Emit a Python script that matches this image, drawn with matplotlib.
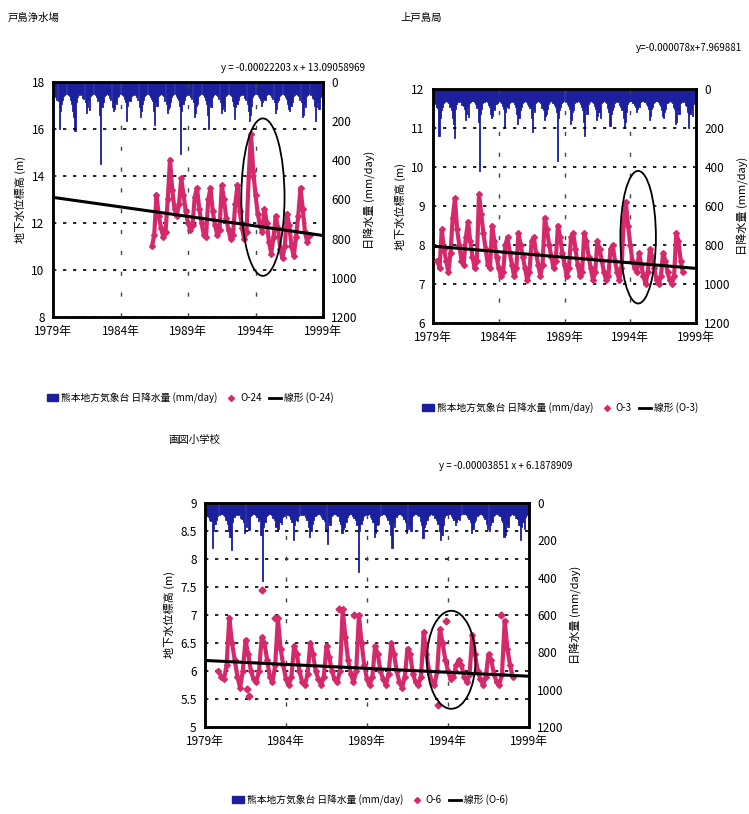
import numpy as np
import matplotlib
matplotlib.use('Agg')
import matplotlib.pyplot as plt
from matplotlib.patches import Ellipse, Patch
from matplotlib.lines import Line2D

plt.rcParams['font.family'] = ['Noto Sans CJK JP', 'DejaVu Sans']

# daily rainfall (max per month, mm/day), Kumamoto observatory, 1979-1998
rain_years = list(range(1979, 1999))
rain_monthly = [
    [60, 70, 75, 90, 95, 240, 150, 110, 90, 70, 65, 60],
    [60, 65, 70, 90, 110, 150, 180, 250, 100, 75, 65, 60],
    [65, 60, 80, 85, 100, 160, 130, 90, 145, 70, 65, 60],
    [60, 65, 75, 95, 85, 170, 420, 130, 100, 70, 65, 60],
    [60, 65, 80, 90, 130, 150, 140, 100, 110, 75, 70, 60],
    [60, 65, 70, 85, 100, 200, 120, 90, 95, 70, 65, 60],
    [65, 60, 75, 90, 130, 180, 150, 110, 90, 70, 65, 60],
    [60, 65, 75, 85, 95, 150, 220, 100, 120, 70, 65, 60],
    [60, 65, 70, 95, 110, 160, 140, 130, 100, 75, 65, 60],
    [60, 70, 80, 90, 120, 370, 150, 110, 90, 70, 65, 60],
    [65, 60, 75, 85, 100, 180, 160, 120, 110, 70, 65, 60],
    [60, 65, 75, 90, 110, 170, 240, 100, 130, 75, 65, 60],
    [60, 65, 70, 85, 100, 160, 140, 120, 150, 70, 65, 60],
    [60, 65, 70, 95, 120, 190, 130, 110, 90, 70, 65, 60],
    [65, 60, 80, 90, 110, 150, 200, 170, 120, 75, 65, 60],
    [60, 60, 70, 80, 90, 120, 100, 85, 90, 65, 60, 60],
    [60, 65, 75, 85, 100, 160, 140, 100, 90, 70, 65, 60],
    [60, 65, 75, 85, 110, 140, 150, 120, 100, 70, 65, 60],
    [60, 65, 70, 90, 100, 180, 170, 110, 130, 70, 65, 60],
    [65, 60, 80, 85, 120, 200, 130, 100, 140, 75, 65, 60],
]

# groundwater level, every 2 months (Jan, Mar, May, Jul, Sep, Nov)
o24_start = 1986 + 4 / 12
o24 = [11.0, 11.5, 13.2, 12.3,
       11.8, 11.4, 11.6, 13.0, 14.7, 13.4,
       12.6, 12.3, 12.8, 13.9, 13.2, 12.5,
       12.0, 11.7, 11.9, 13.1, 13.5, 12.6,
       12.0, 11.5, 11.4, 13.0, 13.5, 12.5,
       11.9, 11.5, 11.7, 13.6, 13.0, 12.2,
       11.7, 11.3, 11.5, 12.8, 13.6, 12.5,
       11.8, 11.3, 11.6, 14.0, 15.8, 14.2,
       13.2, 12.4, 11.9, 11.6, 12.6, 12.0,
       11.2, 10.7, 11.4, 12.3, 11.8, 10.9,
       10.5, 11.0, 12.4, 11.9, 11.0, 10.6,
       11.4, 12.3, 13.5, 12.6, 11.6, 11.2,
       11.5]

o3_start = 1979 + 4 / 12
o3 = [7.6, 7.4, 8.4, 7.9,
      7.6, 7.3, 7.8, 8.7, 9.2, 8.4,
      8.0, 7.6, 7.5, 8.2, 8.6, 8.1,
      7.7, 7.4, 7.6, 9.3, 8.8, 8.3,
      7.9, 7.5, 7.4, 8.5, 8.1, 7.7,
      7.4, 7.2, 7.3, 8.0, 8.2, 7.8,
      7.5, 7.2, 7.4, 8.3, 8.0, 7.7,
      7.4, 7.1, 7.3, 8.1, 8.2, 7.8,
      7.5, 7.2, 7.5, 8.7, 8.4, 8.0,
      7.7, 7.4, 7.6, 8.5, 8.2, 7.8,
      7.5, 7.2, 7.4, 8.2, 8.3, 7.9,
      7.5, 7.2, 7.3, 8.3, 8.1, 7.7,
      7.4, 7.1, 7.3, 8.1, 7.9, 7.6,
      7.3, 7.1, 7.2, 7.9, 8.0, 7.6,
      7.3, 7.1, 7.4, 8.6, 9.1, 8.5,
      8.0, 7.6, 7.4, 7.3, 7.8, 7.5,
      7.2, 7.0, 7.3, 7.9, 7.7, 7.4,
      7.1, 7.0, 7.2, 7.8, 7.6, 7.3,
      7.1, 7.0, 7.2, 8.3, 8.1, 7.6,
      7.3]

o6_start = 1979 + 10 / 12
o6 = [6.0,
      5.9, 5.85, 6.1, 6.95, 6.5, 6.2,
      5.9, 5.7, 6.0, 6.55, 6.3, 6.0,
      5.85, 5.8, 6.0, 6.6, 6.5, 6.2,
      5.9, 5.8, 6.1, 6.95, 6.4, 6.1,
      5.85, 5.75, 5.9, 6.45, 6.3, 6.0,
      5.8, 5.75, 5.95, 6.5, 6.3, 6.0,
      5.85, 5.75, 5.9, 6.45, 6.25, 6.0,
      5.85, 5.8, 6.0, 7.1, 6.6, 6.2,
      5.95, 5.8, 6.0, 7.0, 6.5, 6.1,
      5.85, 5.75, 5.9, 6.45, 6.3, 6.0,
      5.85, 5.75, 5.95, 6.5, 6.3, 6.0,
      5.8, 5.7, 5.9, 6.4, 6.3, 5.95,
      5.8, 5.75, 5.9, 6.7, 6.3, 6.0,
      5.8, 5.75, 6.0, 6.75, 6.5, 6.2,
      6.0, 5.85, 5.9, 6.1, 6.2, 6.1,
      5.9, 5.8, 5.95, 6.65, 6.3, 6.0,
      5.85, 5.75, 5.9, 6.3, 6.2, 5.95,
      5.8, 5.75, 5.95, 6.9, 6.4, 6.1,
      5.9]
# scattered single readings of O-6
o6_out_x = [1981.6, 1981.7, 1982.5, 1983.3, 1987.3, 1988.2, 1993.4, 1993.9, 1997.3]
o6_out_y = [5.68, 5.55, 7.45, 6.95, 7.1, 7.0, 5.4, 6.9, 7.0]

# linear fits (x = days since 1979-01-01)
fits = {
    'O-24': (-0.00022203, 13.09058969),
    'O-3': (-0.000078, 7.969881),
    'O-6': (-0.00003851, 6.1878909),
}

year_ticks = [1979, 1984, 1989, 1994, 1999]
year_labels = ['%d年' % y for y in year_ticks]

BLUE = '#1b1f9e'
RED = '#d42a6c'

fig = plt.figure(figsize=(7.49, 8.14), dpi=100)
W, H = 749, 814


def panel(rect, name, start, vals, ylim, yticks, ylabels, ellipse, extra=None):
    l, t, r, b = rect
    ax = fig.add_axes([l / W, 1 - b / H, (r - l) / W, (b - t) / H])
    ax2 = ax.twinx()
    ax.set_zorder(ax2.get_zorder() + 1)
    ax.patch.set_visible(False)

    # rainfall bars hanging from the top
    rx, ry = [], []
    for yr, row in zip(rain_years, rain_monthly):
        for m, v in enumerate(row):
            rx.append(yr + (m + 0.5) / 12)
            ry.append(v)
    ax2.bar(rx, ry, width=1 / 12, color=BLUE, edgecolor=BLUE, linewidth=0.6)
    ax2.set_ylim(1200, 0)
    ax2.set_yticks(range(0, 1201, 200))
    ax2.set_ylabel('日降水量 (mm/day)', rotation=90, fontsize=8, labelpad=4)

    xs = [start + i / 6 for i in range(len(vals))]
    ax.plot(xs, vals, color=RED, lw=3, marker='D', ms=3, zorder=3)
    if extra:
        ax.plot(extra[0], extra[1], ls='none', color=RED, marker='D', ms=3.5, zorder=3)

    a, b0 = fits[name]
    tx = np.array([1979, 1999])
    ax.plot(tx, b0 + a * (tx - 1979) * 365.25, color='black', lw=2.2, zorder=4)

    ax.add_patch(Ellipse(ellipse[:2], ellipse[2], ellipse[3], fill=False,
                         ec='black', lw=1.3, zorder=5))

    ax.set_xlim(1979, 1999)
    ax.set_ylim(*ylim)
    ax.set_yticks(yticks)
    ax.set_yticklabels(ylabels)
    ax.set_xticks(year_ticks)
    ax.set_xticklabels(year_labels)
    ax.yaxis.grid(True, linestyle=(0, (2, 4)), color='black', lw=1.2)
    for yv in year_ticks[1:-1]:
        ax.axvline(yv, color='#444444', lw=1.0, linestyle=(0, (3, 12)))
    ax.set_ylabel('地下水位標高 (m)', fontsize=8, labelpad=4)
    for a_ in (ax, ax2):
        a_.tick_params(length=0, labelsize=8.5, pad=6)
        for s in a_.spines.values():
            s.set_linewidth(1.8)
    return ax


ax1 = panel((53, 82, 323, 317), 'O-24', o24_start, o24, (8, 18),
            [8, 10, 12, 14, 16, 18], ['8', '10', '12', '14', '16', '18'],
            (1994.55, 13.1, 3.2, 6.7))
ax2p = panel((433, 89, 696, 323), 'O-3', o3_start, o3, (6, 12),
             [6, 7, 8, 9, 10, 11, 12], ['6', '7', '8', '9', '10', '11', '12'],
             (1994.6, 8.2, 2.7, 3.4))
ax3 = panel((205, 503, 529, 727), 'O-6', o6_start, o6, (5, 9),
            [5, 5.5, 6, 6.5, 7, 7.5, 8, 8.5, 9],
            ['5', '5.5', '6', '6.5', '7', '7.5', '8', '8.5', '9'],
            (1994.2, 6.2, 3.0, 1.75), extra=(o6_out_x, o6_out_y))

# titles and fit equations
fig.text(8 / W, 1 - 18 / H, '戸島浄水場', fontsize=7.5, va='center')
fig.text(400 / W, 1 - 18 / H, '上戸島局', fontsize=7.5, va='center')
fig.text(168 / W, 1 - 440 / H, '画図小学校', fontsize=7.5, va='center')
fig.text(365 / W, 1 - 68 / H, 'y = -0.00022203 x + 13.09058969', fontsize=7,
         ha='right', va='center')
fig.text(742 / W, 1 - 48 / H, 'y=-0.000078x+7.969881', fontsize=7,
         ha='right', va='center')
fig.text(572 / W, 1 - 466 / H, 'y = -0.00003851 x + 6.1878909', fontsize=7,
         ha='right', va='center')


def legend(cx, cy, name):
    handles = [Patch(color=BLUE),
               Line2D([], [], ls='none', marker='D', ms=3, color=RED),
               Line2D([], [], color='black', lw=2)]
    labels = ['熊本地方気象台 日降水量 (mm/day)', name, '線形 (%s)' % name]
    fig.legend(handles, labels, loc='center', bbox_to_anchor=(cx / W, 1 - cy / H),
               ncol=3, frameon=False, fontsize=7, handlelength=1.2,
               handletextpad=0.3, columnspacing=0.8)


legend(190, 398, 'O-24')
legend(560, 408, 'O-3')
legend(370, 800, 'O-6')

fig.savefig('out.png', dpi=100)
